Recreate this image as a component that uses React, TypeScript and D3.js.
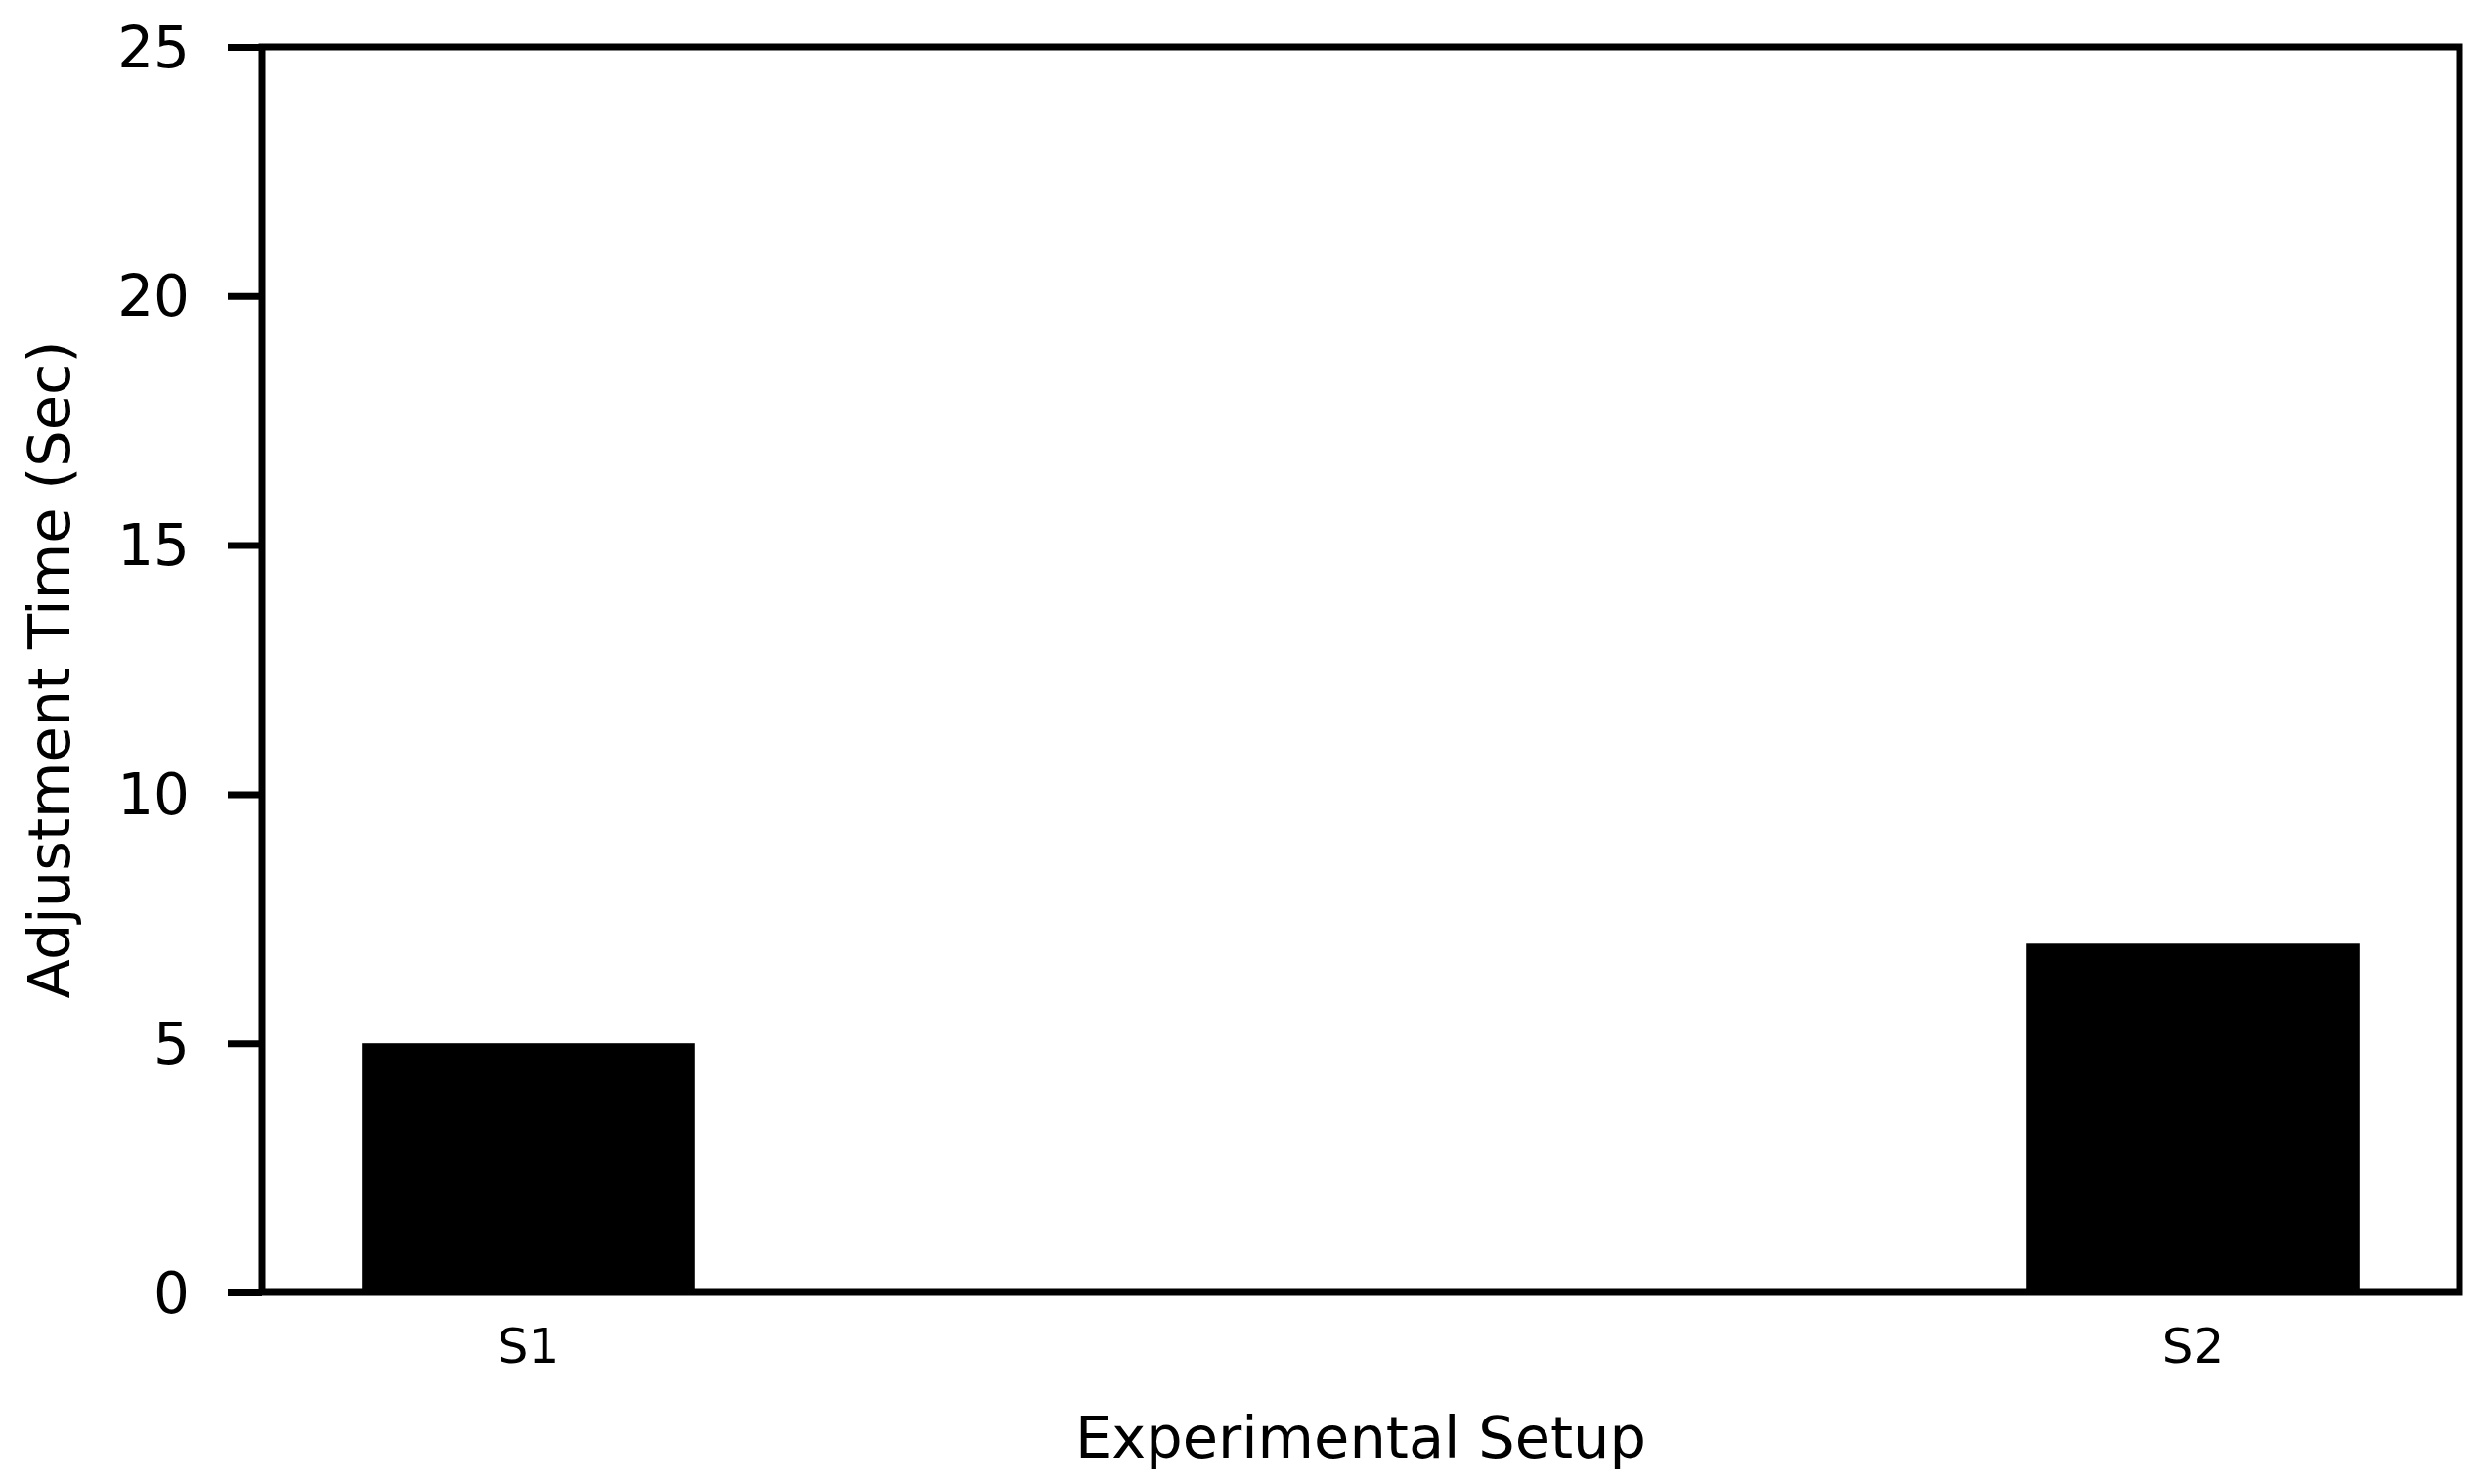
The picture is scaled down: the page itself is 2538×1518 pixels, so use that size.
import React, { useRef, useEffect } from "react";
import * as d3 from "d3";

const categories = ["S1", "S2"];
const values = [5, 7];
const yTicks = [0, 5, 10, 15, 20, 25];

const App = () => {
  const ref = useRef(null);

  useEffect(() => {
    const svg = d3.select(ref.current);
    svg.selectAll("*").remove();

    const width = 2538;
    const height = 1518;
    const margin = { top: 48, right: 22, bottom: 196, left: 268 };
    const innerW = width - margin.left - margin.right;
    const innerH = height - margin.top - margin.bottom;
    const font = "DejaVu Sans";

    // bars sit at 0 and 1, width 0.2, with the matplotlib-like 0.06 padding
    const x = d3.scaleLinear().domain([-0.16, 1.16]).range([0, innerW]);
    const y = d3.scaleLinear().domain([0, 25]).range([innerH, 0]);
    const barW = x(0.2) - x(0);

    const g = svg
      .append("g")
      .attr("transform", `translate(${margin.left},${margin.top})`);

    g.selectAll("rect.bar")
      .data(values)
      .enter()
      .append("rect")
      .attr("class", "bar")
      .attr("x", (d, i) => x(i) - barW / 2)
      .attr("y", (d) => y(d))
      .attr("width", barW)
      .attr("height", (d) => innerH - y(d))
      .attr("fill", "black");

    // frame
    g.append("rect")
      .attr("x", 0)
      .attr("y", 0)
      .attr("width", innerW)
      .attr("height", innerH)
      .attr("fill", "none")
      .attr("stroke", "black")
      .attr("stroke-width", 7);

    // y axis
    const yAxis = g
      .append("g")
      .call(d3.axisLeft(y).tickValues(yTicks).tickSize(35).tickPadding(39));
    yAxis.select(".domain").remove();
    yAxis.selectAll(".tick line").attr("stroke", "black").attr("stroke-width", 7);
    yAxis
      .selectAll(".tick text")
      .attr("fill", "black")
      .attr("font-family", font)
      .attr("font-size", 58)
      .attr("dy", null)
      .attr("dominant-baseline", "central");

    // x axis: labels only, no tick marks
    g.selectAll("text.xlab")
      .data(categories)
      .enter()
      .append("text")
      .attr("class", "xlab")
      .attr("x", (d, i) => x(i))
      .attr("y", innerH + 72)
      .attr("text-anchor", "middle")
      .attr("font-family", font)
      .attr("font-size", 50)
      .text((d) => d);

    svg
      .append("text")
      .attr("x", margin.left + innerW / 2)
      .attr("y", 1491)
      .attr("text-anchor", "middle")
      .attr("font-family", font)
      .attr("font-size", 59)
      .text("Experimental Setup");

    svg
      .append("text")
      .attr("transform", `translate(71,${margin.top + innerH / 2}) rotate(-90)`)
      .attr("text-anchor", "middle")
      .attr("font-family", font)
      .attr("font-size", 59)
      .text("Adjustment Time (Sec)");
  }, []);

  return (
    <svg
      ref={ref}
      width={2538}
      height={1518}
      style={{ position: "absolute", left: 0, top: 0, background: "white" }}
    />
  );
};

export default App;
